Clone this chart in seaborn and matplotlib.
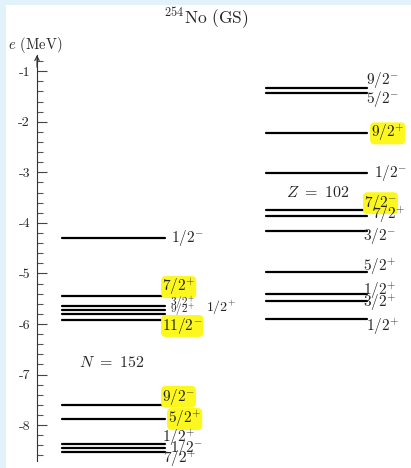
import numpy as np
import pandas as pd
import matplotlib
matplotlib.use("Agg")
import matplotlib.pyplot as plt
from matplotlib.patches import Rectangle
import seaborn as sns

# ---------------- data ----------------
neutron_e = [-4.30, -5.44, -5.64, -5.72, -5.80, -5.92, -7.61, -7.88, -8.37, -8.45, -8.53]
proton_e = [-1.34, -1.43, -2.23, -3.02, -3.75, -3.86, -4.17, -4.97, -5.41, -5.55, -5.91]

neutron_labels = ["1/2^{-}", "7/2^{+}", "3/2^{+}", "9/2^{+}", "1/2^{+}", "11/2^{-}",
                  "9/2^{-}", "5/2^{+}", "1/2^{+}", "1/2^{-}", "7/2^{+}"]
proton_labels = ["9/2^{-}", "5/2^{-}", "9/2^{+}", "1/2^{-}", "7/2^{-}", "7/2^{+}",
                 "3/2^{-}", "5/2^{+}", "1/2^{+}", "3/2^{+}", "1/2^{+}"]

neutron_hl = [False, True, False, False, False, True, True, True, False, False, False]
proton_hl = [False, False, True, False, True, False, False, False, False, False, False]

title = r"$^{254}$No (GS)"
ylabel = r"$e$ (MeV)"
neutron_tag = r"$N\ =\ 152$"
proton_tag = r"$Z\ =\ 102$"

# ---------------- layout (positions, not data) ----------------
W, H = 411, 468
ax_left_px, ax_bottom_px, ax_top_px = 37, 461, 55
ylim = (-8.71, -0.68)
xlim = (0, W - ax_left_px)
n_x = (25, 128)
p_x = (229, 330)

# label anchor positions: (x_left in axis px units, y in MeV, size)
neutron_lab_pos = [(134, -4.30, 11), (125, -5.27, 11), (133, -5.60, 8), (133, -5.74, 8),
                   (169, -5.66, 10), (125, -6.04, 11), (125, -7.44, 11), (131, -7.88, 11),
                   (125, -8.25, 11), (133, -8.45, 11), (126, -8.67, 11)]
proton_lab_pos = [(329, -1.18, 11), (329, -1.55, 11), (334, -2.23, 11), (337, -3.02, 11),
                  (327, -3.61, 11), (335, -3.85, 11), (326, -4.26, 11), (326, -4.87, 11),
                  (326, -5.35, 11), (326, -5.58, 11), (329, -6.06, 11)]

# ---------------- build long table ----------------
rows = []
k = 0
for e in neutron_e:
    rows.append(dict(level=k, x=n_x[0], e=e))
    rows.append(dict(level=k, x=n_x[1], e=e))
    k += 1
for e in proton_e:
    rows.append(dict(level=k, x=p_x[0], e=e))
    rows.append(dict(level=k, x=p_x[1], e=e))
    k += 1
df = pd.DataFrame(rows)

sns.set_theme(style="white")
plt.rcParams["font.family"] = ["cmr10", "DejaVu Serif"]
plt.rcParams["mathtext.fontset"] = "cm"
plt.rcParams["axes.unicode_minus"] = False
plt.rcParams["axes.formatter.use_mathtext"] = False

fig = plt.figure(figsize=(W / 100, H / 100), dpi=100)
fig.patch.set_facecolor("white")
ax = fig.add_axes([ax_left_px / W, (H - ax_bottom_px) / H,
                   (W - ax_left_px) / W, (ax_bottom_px - ax_top_px) / H])
ax.set_facecolor("none")

sns.lineplot(data=df, x="x", y="e", units="level", estimator=None,
             color="black", lw=1.6, legend=False, ax=ax, sort=False)

ax.set_xlim(*xlim)
ax.set_ylim(*ylim)
ax.set_xlabel("")
ax.set_ylabel("")
for s in ["top", "right", "bottom"]:
    ax.spines[s].set_visible(False)
ax.spines["left"].set_color("#333333")
ax.spines["left"].set_linewidth(0.8)
ax.set_xticks([])
ax.set_yticks(np.arange(-8, 0, 1))
ax.set_yticklabels([str(v) for v in range(-8, 0)])
ax.set_yticks(np.arange(-8.6, -0.7, 0.2), minor=True)
ax.tick_params(axis="y", which="major", direction="in", length=7.5, width=0.8,
               color="#444444", labelsize=10, pad=5, left=True)
ax.tick_params(axis="y", which="minor", direction="in", length=4.3, width=0.8,
               color="#555555", left=True)

# arrow head on the axis
ax.annotate("", xy=(0, 1.0), xytext=(0, 0.97), xycoords="axes fraction",
            arrowprops=dict(arrowstyle="->", lw=0.8, color="#333333",
                            shrinkA=0, shrinkB=0, mutation_scale=8))

hl_box = dict(boxstyle="round,pad=0.06,rounding_size=0.3", facecolor="#fdf720", edgecolor="none")

for lab, hl, (lx, ly, fs) in zip(neutron_labels, neutron_hl, neutron_lab_pos):
    ax.text(lx, ly, f"${lab}$", fontsize=fs, ha="left", va="center",
            bbox=hl_box if hl else None, clip_on=False)
for lab, hl, (lx, ly, fs) in zip(proton_labels, proton_hl, proton_lab_pos):
    ax.text(lx, ly, f"${lab}$", fontsize=fs, ha="left", va="center",
            bbox=hl_box if hl else None, clip_on=False)

ax.text(75, -6.77, neutron_tag, fontsize=11.5, ha="center", va="center")
ax.text(281, -3.39, proton_tag, fontsize=11.5, ha="center", va="center")

fig.text(206 / W, 1 - 18 / H, title, fontsize=12.5, ha="center", va="center")
fig.text(8 / W, 1 - 45 / H, ylabel, fontsize=10.5, ha="left", va="center")

# light blue frame strips
fig.add_artist(Rectangle((0, 0), 6 / W, 1, transform=fig.transFigure,
                         facecolor="#e2f2fa", edgecolor="none", zorder=-1))
fig.add_artist(Rectangle((0, 1 - 5 / H), 1, 5 / H, transform=fig.transFigure,
                         facecolor="#e2f2fa", edgecolor="none", zorder=-1))

fig.savefig("out.png", dpi=100)
